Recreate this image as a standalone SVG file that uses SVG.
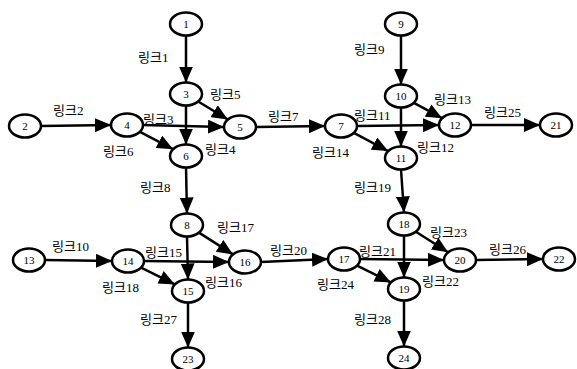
<svg xmlns="http://www.w3.org/2000/svg" width="577" height="369" viewBox="0 0 577 369">
<defs>
<marker id="ah" markerUnits="userSpaceOnUse" markerWidth="17" markerHeight="14" refX="16" refY="7" orient="auto">
<path d="M0,0 L16,7 L0,14 z" fill="#000"/>
</marker>
<style>
.n ellipse{fill:#fff;stroke:#000;stroke-width:2.5}
.n text{font-family:"Liberation Serif",serif;font-size:11px;text-anchor:middle;fill:#000}
.e line{stroke:#000;stroke-width:2.5;marker-end:url(#ah)}
.l text{font-family:"Liberation Serif","Noto Sans CJK KR",serif;font-size:13px;fill:#000}
</style>
</defs>
<rect width="577" height="369" fill="#fff"/>
<g id="connectors" class="e">
<line x1="186" y1="35.5" x2="186" y2="82.5"/>
<line x1="41" y1="126" x2="111" y2="125"/>
<line x1="143" y1="125" x2="224" y2="127"/>
<line x1="186" y1="105.5" x2="186" y2="144.5"/>
<line x1="198.2" y1="101.5" x2="227.8" y2="119.5"/>
<line x1="139.9" y1="131.8" x2="173.1" y2="149.2"/>
<line x1="256" y1="127" x2="325" y2="126"/>
<line x1="186" y1="167.5" x2="187" y2="213.5"/>
<line x1="401" y1="35.5" x2="401" y2="84.5"/>
<line x1="357" y1="126" x2="439" y2="125"/>
<line x1="401" y1="107.5" x2="401" y2="146.5"/>
<line x1="413.9" y1="102.8" x2="442.1" y2="118.2"/>
<line x1="353.9" y1="132.9" x2="388.1" y2="151.1"/>
<line x1="471" y1="125" x2="540" y2="125"/>
<line x1="401" y1="169.5" x2="404" y2="212.5"/>
<line x1="45" y1="260" x2="112" y2="261"/>
<line x1="144" y1="261" x2="229" y2="262"/>
<line x1="187" y1="236.5" x2="188" y2="279.5"/>
<line x1="199" y1="232.6" x2="233" y2="254.4"/>
<line x1="141.1" y1="267.6" x2="174.9" y2="284.4"/>
<line x1="261" y1="262" x2="328" y2="259"/>
<line x1="360" y1="259" x2="444" y2="260"/>
<line x1="404" y1="235.5" x2="404" y2="277.5"/>
<line x1="415.9" y1="231.7" x2="448.1" y2="252.3"/>
<line x1="357.1" y1="265.6" x2="390.9" y2="282.4"/>
<line x1="476" y1="260" x2="543" y2="259"/>
<line x1="188" y1="302.5" x2="188" y2="347.5"/>
<line x1="404" y1="300.5" x2="404" y2="346.5"/>
</g>
<g id="labels" class="l">
<text x="138" y="62">링크1</text>
<text x="53" y="115">링크2</text>
<text x="143" y="124">링크3</text>
<text x="205" y="154">링크4</text>
<text x="210" y="99">링크5</text>
<text x="103" y="156">링크6</text>
<text x="268" y="121">링크7</text>
<text x="140" y="192">링크8</text>
<text x="354" y="54">링크9</text>
<text x="52" y="251">링크10</text>
<text x="354" y="120">링크11</text>
<text x="417" y="152">링크12</text>
<text x="434" y="104">링크13</text>
<text x="312" y="157">링크14</text>
<text x="145" y="257">링크15</text>
<text x="205" y="287">링크16</text>
<text x="217" y="232">링크17</text>
<text x="102" y="292">링크18</text>
<text x="354" y="192">링크19</text>
<text x="270" y="255">링크20</text>
<text x="359" y="256">링크21</text>
<text x="422" y="286">링크22</text>
<text x="430" y="237">링크23</text>
<text x="317" y="289">링크24</text>
<text x="484" y="117">링크25</text>
<text x="489" y="254">링크26</text>
<text x="140" y="324">링크27</text>
<text x="354" y="324">링크28</text>
</g>
<g id="n1" class="n"><ellipse cx="186" cy="24" rx="16" ry="11.5"/><text x="186" y="28">1</text></g>
<g id="n2" class="n"><ellipse cx="25" cy="126" rx="16" ry="11.5"/><text x="25" y="130">2</text></g>
<g id="n3" class="n"><ellipse cx="186" cy="94" rx="16" ry="11.5"/><text x="186" y="98">3</text></g>
<g id="n4" class="n"><ellipse cx="127" cy="125" rx="16" ry="11.5"/><text x="127" y="129">4</text></g>
<g id="n5" class="n"><ellipse cx="240" cy="127" rx="16" ry="11.5"/><text x="240" y="131">5</text></g>
<g id="n6" class="n"><ellipse cx="186" cy="156" rx="16" ry="11.5"/><text x="186" y="160">6</text></g>
<g id="n7" class="n"><ellipse cx="341" cy="126" rx="16" ry="11.5"/><text x="341" y="130">7</text></g>
<g id="n8" class="n"><ellipse cx="187" cy="225" rx="16" ry="11.5"/><text x="187" y="229">8</text></g>
<g id="n9" class="n"><ellipse cx="401" cy="24" rx="16" ry="11.5"/><text x="401" y="28">9</text></g>
<g id="n10" class="n"><ellipse cx="401" cy="96" rx="16" ry="11.5"/><text x="401" y="100">10</text></g>
<g id="n11" class="n"><ellipse cx="401" cy="158" rx="16" ry="11.5"/><text x="401" y="162">11</text></g>
<g id="n12" class="n"><ellipse cx="455" cy="125" rx="16" ry="11.5"/><text x="455" y="129">12</text></g>
<g id="n13" class="n"><ellipse cx="29" cy="260" rx="16" ry="11.5"/><text x="29" y="264">13</text></g>
<g id="n14" class="n"><ellipse cx="128" cy="261" rx="16" ry="11.5"/><text x="128" y="265">14</text></g>
<g id="n15" class="n"><ellipse cx="188" cy="291" rx="16" ry="11.5"/><text x="188" y="295">15</text></g>
<g id="n16" class="n"><ellipse cx="245" cy="262" rx="16" ry="11.5"/><text x="245" y="266">16</text></g>
<g id="n17" class="n"><ellipse cx="344" cy="259" rx="16" ry="11.5"/><text x="344" y="263">17</text></g>
<g id="n18" class="n"><ellipse cx="404" cy="224" rx="16" ry="11.5"/><text x="404" y="228">18</text></g>
<g id="n19" class="n"><ellipse cx="404" cy="289" rx="16" ry="11.5"/><text x="404" y="293">19</text></g>
<g id="n20" class="n"><ellipse cx="460" cy="260" rx="16" ry="11.5"/><text x="460" y="264">20</text></g>
<g id="n21" class="n"><ellipse cx="556" cy="125" rx="16" ry="11.5"/><text x="556" y="129">21</text></g>
<g id="n22" class="n"><ellipse cx="559" cy="259" rx="16" ry="11.5"/><text x="559" y="263">22</text></g>
<g id="n23" class="n"><ellipse cx="188" cy="359" rx="16" ry="11.5"/><text x="188" y="363">23</text></g>
<g id="n24" class="n"><ellipse cx="404" cy="358" rx="16" ry="11.5"/><text x="404" y="362">24</text></g>
</svg>
